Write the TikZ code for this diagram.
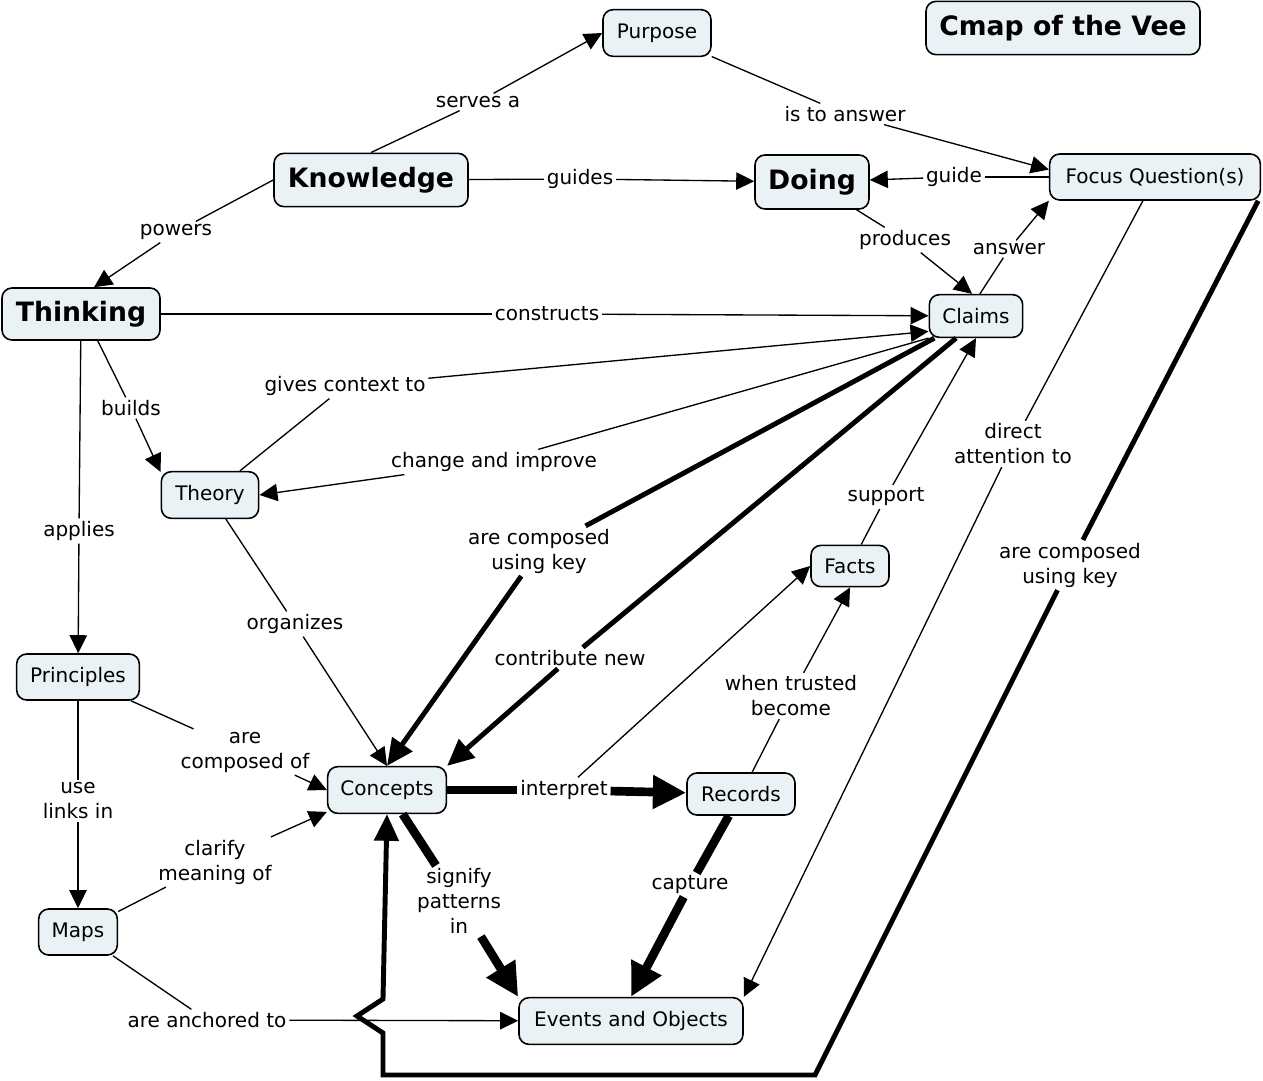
\documentclass[tikz,border=0pt]{standalone}
\usepackage{fontspec}
\setmainfont{DejaVu Sans}
\usetikzlibrary{arrows.meta}
\definecolor{boxfill}{RGB}{235,242,245}
\tikzset{
 concept/.style={draw=black, line width=1.2pt, fill=boxfill, rounded corners=7.5pt, inner sep=0pt, align=center, font=\fontsize{15}{18.75}\selectfont},
 bigconcept/.style={concept, font=\fontsize{20}{24}\selectfont\bfseries},
 lbl/.style={inner sep=2pt, align=center, font=\fontsize{15}{18.75}\selectfont},
 lnk/.style={line width=1pt},
 lnkarr/.style={lnk, -{Triangle[length=13.5pt,width=13pt]}},
 hvy/.style={line width=3.7pt},
 hvyarr/.style={hvy, -{Triangle[length=20pt,width=18pt]}},
 xhvy/.style={line width=6.5pt},
 xhvyarr/.style={xhvy, -{Triangle[length=25pt,width=24pt]}}
}
\begin{document}
\begin{tikzpicture}[x=0.75pt,y=-0.75pt]
\fill[white] (0,0) rectangle (1263,1081);
\useasboundingbox (0,0) rectangle (1263,1081);
% concepts
\node[concept, minimum width=81pt, minimum height=35pt] (purpose) at (657,33) {Purpose};
\node[bigconcept, minimum width=205.5pt, minimum height=40pt] (title) at (1063,28) {Cmap of the Vee};
\node[bigconcept, minimum width=145.5pt, minimum height=40pt] (knowledge) at (371,180) {Knowledge};
\node[bigconcept, minimum width=85.5pt, minimum height=40.5pt] (doing) at (812,182) {Doing};
\node[concept, minimum width=158pt, minimum height=34.5pt] (fq) at (1155,177) {Focus Question(s)};
\node[bigconcept, minimum width=118.5pt, minimum height=39pt] (thinking) at (81,314) {Thinking};
\node[concept, minimum width=70pt, minimum height=32pt] (claims) at (976,316) {Claims};
\node[concept, minimum width=73pt, minimum height=35pt] (theory) at (210,495) {Theory};
\node[concept, minimum width=58.5pt, minimum height=31pt] (facts) at (850,566) {Facts};
\node[concept, minimum width=92pt, minimum height=34.5pt] (principles) at (78,677) {Principles};
\node[concept, minimum width=89pt, minimum height=35pt] (concepts) at (387,790) {Concepts};
\node[concept, minimum width=81pt, minimum height=31.5pt] (records) at (741,794) {Records};
\node[concept, minimum width=59pt, minimum height=34.5pt] (maps) at (78,932) {Maps};
\node[concept, minimum width=168pt, minimum height=35pt] (events) at (631,1021) {Events and Objects};
% linking phrases
\node[lbl] (serves) at (478,102) {serves a};
\node[lbl] (isans) at (845,114) {is to answer};
\node[lbl] (guides) at (580,179) {guides};
\node[lbl] (guide) at (954,177) {guide};
\node[lbl] (powers) at (176,232) {powers};
\node[lbl] (produces) at (905,240) {produces};
\node[lbl] (answer) at (1009,249) {answer};
\node[lbl] (constructs) at (547,314) {constructs};
\node[lbl] (gives) at (345,386) {gives context to};
\node[lbl] (builds) at (131,408) {builds};
\node[lbl] (direct) at (1013,444) {direct\\attention to};
\node[lbl] (change) at (494,462) {change and improve};
\node[lbl] (support) at (886,497) {support};
\node[lbl] (applies) at (79,531) {applies};
\node[lbl] (compkey) at (539,551) {are composed\\using key};
\node[lbl] (compkeyb) at (1070,565) {are composed\\using key};
\node[lbl] (organizes) at (295,624) {organizes};
\node[lbl] (contrib) at (570,658) {contribute new};
\node[lbl] (trusted) at (791,696) {when trusted\\become};
\node[lbl] (compof) at (245,752) {are\\composed of};
\node[lbl] (interpret) at (564,790) {interpret};
\node[lbl] (uselinks) at (78,801) {use\\links in};
\node[lbl] (clarify) at (215,862) {clarify\\meaning of};
\node[lbl] (capture) at (690,885) {capture};
\node[lbl] (signify) at (459,901) {signify\\patterns\\in};
\node[lbl] (anchored) at (207,1020) {are anchored to};
% route of the long link
\coordinate (v1) at (815,1075);
\coordinate (v2) at (383,1075);
\coordinate (v3) at (383,1033);
\coordinate (v4) at (357,1016);
\coordinate (v5) at (383,999);
% connectors
\draw[lnk] (knowledge.north) -- (serves);
\draw[lnkarr] (serves) -- (purpose.west);
\draw[lnk] (purpose) -- (isans);
\draw[lnkarr] (isans) -- (fq.176);
\draw[lnk] (knowledge) -- (guides);
\draw[lnkarr] (guides) -- (doing);
\draw[lnk] (fq) -- (guide);
\draw[lnkarr] (guide) -- (doing);
\draw[lnk] (knowledge.west) -- (powers);
\draw[lnkarr] (powers) -- (thinking.64);
\draw[lnk] (doing) -- (produces);
\draw[lnkarr] (produces) -- (claims.100);
\draw[lnk] (claims.80) -- (answer);
\draw[lnkarr] (answer) -- (fq.south west);
\draw[lnk] (thinking) -- (constructs);
\draw[lnkarr] (constructs) -- (claims);
\draw[lnk] (theory) -- (gives);
\draw[lnkarr] (gives) -- (claims.198);
\draw[lnk] (claims.south west) -- (change);
\draw[lnkarr] (change) -- (theory.east);
\draw[lnk] (thinking.-58) -- (builds);
\draw[lnkarr] (builds) -- (theory.155);
\draw[lnk] (thinking) -- (applies);
\draw[lnkarr] (applies) -- (principles);
\draw[hvy] (claims.208) -- (compkey);
\draw[hvyarr] (compkey) -- (concepts.north);
\draw[hvy] (claims.228) -- (contrib);
\draw[hvyarr] (contrib) -- (concepts.north east);
\draw[lnk] (facts) -- (support);
\draw[lnkarr] (support) -- (claims.south);
\draw[lnk] (fq.-117) -- (direct);
\draw[lnkarr] (direct) -- (events.north east);
\draw[hvy] (fq.-13) -- (compkeyb);
\draw[hvyarr, line join=miter] (compkeyb) -- (v1) -- (v2) -- (v3) -- (v4) -- (v5) -- (concepts.south);
\draw[lnk] (theory) -- (organizes);
\draw[lnkarr] (organizes) -- (concepts.north);
\draw[lnk] (records) -- (trusted);
\draw[lnkarr] (trusted) -- (facts.south);
\draw[xhvy] (concepts) -- (interpret);
\draw[xhvyarr] (interpret) -- (records);
\draw[lnkarr] (interpret) -- (facts.west);
\draw[xhvy] (records) -- (capture);
\draw[xhvyarr] (capture) -- (events.north);
\draw[xhvy] (concepts) -- (signify);
\draw[xhvyarr] (signify) -- (events.north west);
\draw[lnk] (principles) -- (compof);
\draw[lnkarr] (compof) -- (concepts.west);
\draw[lnk] (principles) -- (uselinks);
\draw[lnkarr] (uselinks) -- (maps);
\draw[lnk] (maps) -- (clarify);
\draw[lnkarr] (clarify) -- (concepts.200);
\draw[lnk] (maps) -- (anchored);
\draw[lnkarr] (anchored) -- (events);
\end{tikzpicture}
\end{document}
